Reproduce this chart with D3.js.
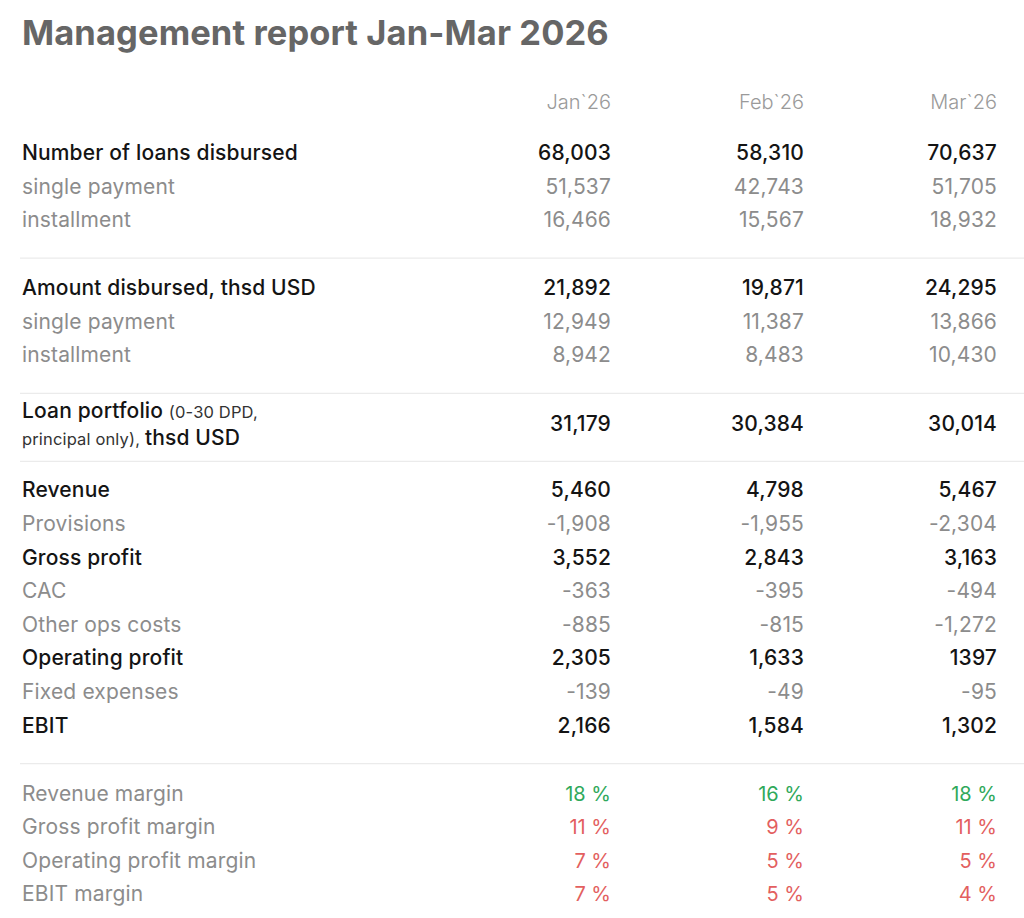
<!DOCTYPE html>
<html>
<head>
<meta charset="utf-8">
<script src="https://cdn.jsdelivr.net/npm/d3@7"></script>
<style>
  body { margin: 0; background: #fff; }
  text { font-family: Inter, "Noto Sans", sans-serif; }
</style>
</head>
<body>
<svg id="report" width="1024" height="918"></svg>
<script>
var title = "Management report Jan-Mar 2026";
var months = ["Jan`26", "Feb`26", "Mar`26"];

// rows per group: label, kind (main / sub / margin), values
var loansLabels = ["Number of loans disbursed", "single payment", "installment"];
var loansValues = [[68003, 58310, 70637], [51537, 42743, 51705], [16466, 15567, 18932]];

var amountLabels = ["Amount disbursed, thsd USD", "single payment", "installment"];
var amountValues = [[21892, 19871, 24295], [12949, 11387, 13866], [8942, 8483, 10430]];

var portfolioValues = [31179, 30384, 30014];

var pnlLabels = ["Revenue", "Provisions", "Gross profit", "CAC", "Other ops costs", "Operating profit", "Fixed expenses", "EBIT"];
var pnlMain = [true, false, true, false, false, true, false, true];
var pnlValues = [
  [5460, 4798, 5467],
  [-1908, -1955, -2304],
  [3552, 2843, 3163],
  [-363, -395, -494],
  [-885, -815, -1272],
  [2305, 1633, 1397],
  [-139, -49, -95],
  [2166, 1584, 1302]
];
// the report prints this one cell without a thousands separator
var plainCells = [["Operating profit", 2]];

var marginLabels = ["Revenue margin", "Gross profit margin", "Operating profit margin", "EBIT margin"];
var marginValues = [[18, 16, 18], [11, 9, 11], [7, 5, 5], [7, 5, 4]];
var marginGood = [true, false, false, false];

var svg = d3.select("#report");
var left = 22;
var rowStep = 33.6;
var fontSize = 21;
var spacing = 0.15;
var colBlack = "#141414";
var colGrey = "#8c8c8c";
var green = "#2fa95b";
var red = "#e35f5f";

var x = d3.scalePoint().domain(months).range([611, 997]);
var fmt = d3.format(",");

function cellText(label, i, v) {
  for (var k in plainCells) {
    if (plainCells[k][0] == label && plainCells[k][1] == i) return String(v);
  }
  return fmt(v).replace("−", "-");
}

// title
svg.append("text")
  .attr("x", left)
  .attr("y", 45)
  .attr("font-size", 34.5)
  .attr("font-weight", 700)
  .attr("fill", "#666")
  .attr("letter-spacing", 0.1)
  .text(title);

// header
svg.selectAll(".month").data(months).enter()
  .append("text")
  .attr("class", "month")
  .attr("x", function(d) { return x(d); })
  .attr("y", 102 + 7)
  .attr("text-anchor", "end")
  .attr("font-size", 20)
  .attr("font-weight", 300)
  .attr("fill", "#9a9a9a")
  .text(function(d) { return d; });

function divider(y) {
  svg.append("line")
    .attr("x1", left - 2).attr("x2", 1024)
    .attr("y1", y).attr("y2", y)
    .attr("stroke", "#ebebeb")
    .attr("stroke-width", 1.2);
}

function drawRow(y, label, main, vals, labelFill, valFill, valSize) {
  var g = svg.append("g").attr("transform", "translate(0," + y + ")");
  g.append("text")
    .attr("x", left).attr("y", 7)
    .attr("font-size", fontSize)
    .attr("letter-spacing", spacing)
    .attr("font-weight", main ? 500 : 400)
    .attr("fill", labelFill || (main ? colBlack : colGrey))
    .text(label);
  g.selectAll(".val").data(vals).enter()
    .append("text")
    .attr("class", "val")
    .attr("x", function(d, i) { return x(months[i]); })
    .attr("y", 7)
    .attr("text-anchor", "end")
    .attr("font-size", valSize || fontSize)
    .attr("letter-spacing", valSize ? 0 : spacing)
    .attr("font-weight", main ? 500 : 400)
    .attr("fill", function(d, i) { return valFill ? valFill(d, i) : (main ? colBlack : colGrey); })
    .text(function(d, i) { return typeof d == "string" ? d : cellText(label, i, d); });
}

var y = 153;
loansLabels.forEach(function(l, i) { drawRow(y + i * rowStep, l, i == 0, loansValues[i]); });
y += (loansLabels.length - 1) * rowStep + 38;
divider(y);
y += 30;
amountLabels.forEach(function(l, i) { drawRow(y + i * rowStep, l, i == 0, amountValues[i]); });
y += (amountLabels.length - 1) * rowStep + 38;
divider(y);
y += 31;

// loan portfolio, two-line label
var lp = svg.append("g").attr("transform", "translate(0," + y + ")");
var t1 = lp.append("text").attr("x", left).attr("y", -13.5 + 7).attr("fill", colBlack).attr("letter-spacing", spacing);
t1.append("tspan").attr("font-size", fontSize).attr("font-weight", 500).text("Loan portfolio ");
t1.append("tspan").attr("font-size", 16.5).attr("fill", "#333").text("(0-30 DPD,");
var t2 = lp.append("text").attr("x", left).attr("y", 13.5 + 7).attr("fill", colBlack).attr("letter-spacing", spacing);
t2.append("tspan").attr("font-size", 16.5).attr("fill", "#333").text("principal only), ");
t2.append("tspan").attr("font-size", fontSize).attr("font-weight", 500).text("thsd USD");
lp.selectAll(".val").data(portfolioValues).enter()
  .append("text")
  .attr("x", function(d, i) { return x(months[i]); })
  .attr("y", 7)
  .attr("text-anchor", "end")
  .attr("font-size", fontSize)
  .attr("letter-spacing", spacing)
  .attr("font-weight", 500)
  .attr("fill", colBlack)
  .text(function(d) { return fmt(d); });
y += 37;
divider(y);
y += 29;

pnlLabels.forEach(function(l, i) { drawRow(y + i * rowStep, l, pnlMain[i], pnlValues[i]); });
y += (pnlLabels.length - 1) * rowStep + 38;
divider(y);
y += 30;

marginLabels.forEach(function(l, i) {
  drawRow(y + i * rowStep, l, false,
    marginValues[i].map(function(v) { return v + " %"; }),
    colGrey,
    function() { return marginGood[i] ? green : red; },
    20);
});
</script>
</body>
</html>
